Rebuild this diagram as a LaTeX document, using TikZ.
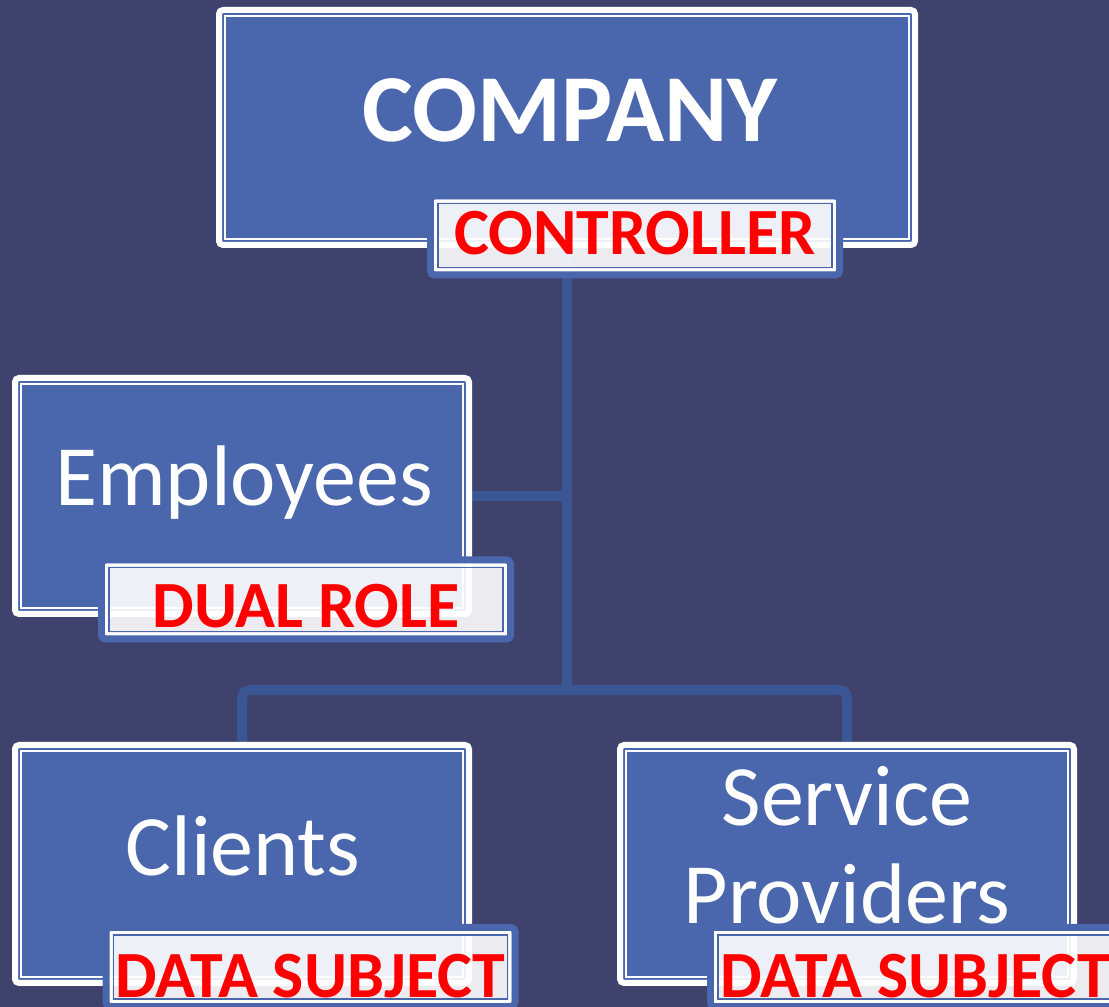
\documentclass[tikz,border=0pt]{standalone}
\usepackage{fontspec}
\setmainfont{Carlito}
\usetikzlibrary{calc}
\definecolor{slide}{RGB}{64,66,110}
\definecolor{boxblue}{RGB}{74,103,173}
\definecolor{linkblue}{RGB}{58,86,148}
\definecolor{rolered}{RGB}{255,0,0}
\pgfdeclarelayer{back}
\pgfsetlayers{back,main}
\tikzset{
	unitbox/.style={rectangle, draw=white, line width=6, fill=boxblue, rounded corners=4, outer sep=0, minimum width=454, minimum height=236},
	unittext/.style={text=white, anchor=base, align=center, font=\fontsize{86}{98}\selectfont},
	rolebox/.style={rectangle, draw=boxblue, line width=7, fill=white, fill opacity=0.9, text opacity=1, rounded corners=4, outer sep=0, inner sep=0, minimum width=409, minimum height=79, text height=50, text depth=0, text=rolered, font=\fontsize{66}{70}\selectfont\bfseries},
	link/.style={draw=linkblue, line width=10},
}

\begin{document}
\begin{tikzpicture}[x=1pt, y=1pt]
		%%%%% START %%%%%
		
		\useasboundingbox (0, 0) rectangle (1109, 1007);
		\clip (0, 0) rectangle (1109, 1007);
		
		\node[unitbox, minimum width=696, minimum height=235] (company) at (567, 879.5) {};
		\node[unitbox] (employees) at (242, 511) {};
		\node[unitbox, minimum height=238] (clients) at (242, 143) {};
		\node[unitbox, minimum height=238] (providers) at (847, 143) {};
		\foreach \n in {company,employees,clients,providers}
			\draw[white, line width=1.2] ([shift={(6,6)}]\n.south west) rectangle ([shift={(-6,-6)}]\n.north east);
		
		\node[unittext, font=\fontsize{96}{98}\selectfont\bfseries] (company-name) at (570, 865) {COMPANY};
		\node[unittext] (employees-name) at (244, 501) {Employees};
		\node[unittext] (clients-name) at (243, 131) {Clients};
		\node[unittext] (providers-name) at (847, 83) {Service\\Providers};
		
		\node[rolebox, text height=39] (controller) at (635, 771.5) {CONTROLLER};
		\node[rolebox, text height=57] (dualrole) at (306, 407.5) {DUAL ROLE};
		\node[rolebox, text height=62] (clientrole) at (310.5, 40) {DATA SUBJECT};
		\node[rolebox, text height=62] (providerrole) at (915, 40) {DATA SUBJECT};
		\foreach \n in {controller,dualrole,clientrole,providerrole} {
			\draw[white, line width=2.5] ([shift={(5,5)}]\n.south west) rectangle ([shift={(-5,-5)}]\n.north east);
			\draw[boxblue, line width=1.5] ([shift={(7.5,7.5)}]\n.south west) rectangle ([shift={(-7.5,-7.5)}]\n.north east);
		}
		
		\begin{pgfonlayer}{back}
			\fill[slide] (0, 0) rectangle (1109, 1007);
			\coordinate (fork) at (567, 317);
			\draw[link] (company.south) -- (fork);
			\draw[link] (company.south |- employees.east) -- (employees.east);
			\draw[link, rounded corners=8] (clients.north) |- (fork) -| (providers.north);
		\end{pgfonlayer}
		
		%%%%% END %%%%%
\end{tikzpicture}
\end{document}
